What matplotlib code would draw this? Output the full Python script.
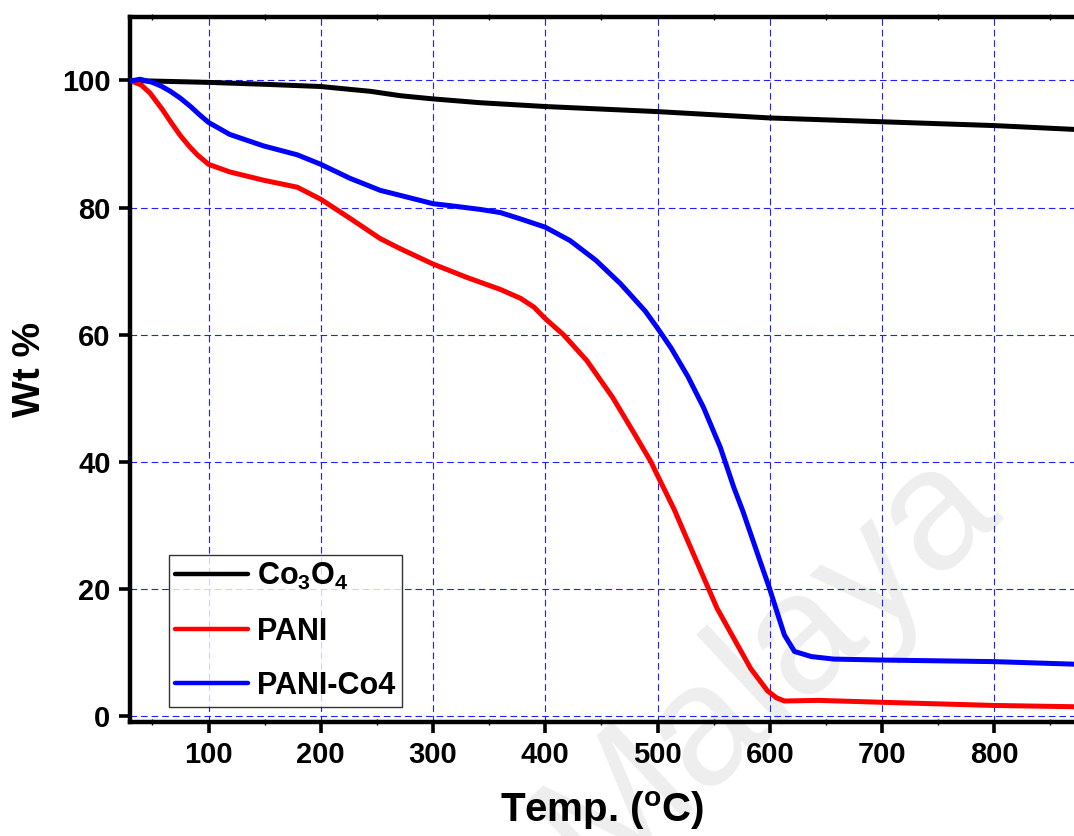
import numpy as np
import matplotlib
matplotlib.use("Agg")
import matplotlib.pyplot as plt
from matplotlib.ticker import MultipleLocator

# ==========================================
# DATA
# ==========================================
co3o4_t = [30, 100, 150, 200, 226, 244, 271, 300, 342, 400, 500, 600, 700, 800, 871]
co3o4_w = [100, 99.7, 99.4, 99.05, 98.6, 98.3, 97.6, 97.1, 96.5, 95.9, 95.1, 94.1, 93.5, 92.9, 92.3]

pani_t = [30, 40, 48, 59, 67, 75, 83, 90, 100, 119, 149, 179, 200, 226, 253, 271, 300, 330, 360,
          378, 390, 400, 416, 437, 460, 479, 494, 500, 515, 524, 553, 583, 598, 606, 613, 643,
          700, 800, 871]
pani_w = [100, 99.3, 98.0, 95.4, 93.3, 91.3, 89.6, 88.3, 86.8, 85.6, 84.3, 83.2, 81.3, 78.3, 75.1,
          73.5, 71.1, 69.0, 67.1, 65.7, 64.3, 62.5, 60.0, 55.9, 50.1, 44.5, 40.0, 37.8, 32.4, 28.7,
          16.9, 7.4, 3.9, 2.8, 2.3, 2.4, 2.1, 1.6, 1.4]

co4_t = [30, 39, 50, 58, 66, 75, 84, 92, 100, 119, 149, 179, 200, 226, 253, 271, 300, 315, 342,
         360, 378, 400, 422, 445, 467, 489, 500, 512, 527, 541, 556, 568, 576, 590, 600, 607, 613,
         622, 637, 657, 700, 800, 871]
co4_w = [99.9, 100.2, 99.7, 99.1, 98.3, 97.2, 95.9, 94.6, 93.4, 91.5, 89.7, 88.3, 86.8, 84.6, 82.7,
         81.9, 80.6, 80.3, 79.7, 79.2, 78.2, 76.9, 74.8, 71.7, 68.0, 63.7, 61.0, 57.9, 53.4, 48.5,
         42.2, 35.9, 32.2, 25.0, 19.9, 16.0, 12.7, 10.1, 9.3, 8.9, 8.75, 8.5, 8.1]

labels = [r"Co$_3$O$_4$", "PANI", "PANI-Co4"]
colors = ["black", "#ff0000", "#0000ff"]

# ==========================================
# STYLE
# ==========================================
plt.rcParams["font.family"] = ["Liberation Sans", "DejaVu Sans"]
plt.rcParams["font.weight"] = "bold"
plt.rcParams["mathtext.fontset"] = "custom"
plt.rcParams["mathtext.rm"] = "Liberation Sans:bold"
plt.rcParams["mathtext.it"] = "Liberation Sans:bold"
plt.rcParams["mathtext.bf"] = "Liberation Sans:bold"
plt.rcParams["mathtext.sf"] = "Liberation Sans:bold"

fig = plt.figure(figsize=(10.74, 8.36), dpi=100)
ax = fig.add_axes([0.121, 0.1364, 0.879, 0.8433])
ax.set_facecolor("none")

# faint watermark behind the plot (cut by the figure edge, as in the source)
fig.text(0.715, 0.205, "Malaya", fontsize=124, fontweight="normal", color="#eeeeee",
         rotation=43, ha="center", va="center", rotation_mode="anchor", zorder=-1)

for t, w, lab, c in zip([co3o4_t, pani_t, co4_t], [co3o4_w, pani_w, co4_w], labels, colors):
    ax.plot(t, w, color=c, lw=3.6, label=lab, solid_capstyle="round",
            solid_joinstyle="round", zorder=3)

ax.set_xlim(30, 871)
ax.set_ylim(-1, 110)
ax.xaxis.set_major_locator(MultipleLocator(100))
ax.xaxis.set_minor_locator(MultipleLocator(50))
ax.yaxis.set_major_locator(MultipleLocator(20))

ax.grid(True, which="major", color="#2020ff", lw=0.8, linestyle=(0, (6, 3.5)), zorder=1)
ax.set_axisbelow(True)

for side in ["left", "bottom", "top"]:
    ax.spines[side].set_linewidth(3.2)
ax.spines["right"].set_visible(False)

ax.tick_params(axis="both", which="major", direction="out", length=8, width=2.6,
               labelsize=21, pad=6)
ax.tick_params(axis="x", which="minor", direction="inout", length=5, width=1,
               top=True, bottom=True)
ax.tick_params(axis="y", which="minor", left=False)

ax.set_xlabel(r"Temp. ($^{o}$C)", fontsize=29, fontweight="bold", labelpad=14)
ax.set_ylabel("Wt %", fontsize=28, fontweight="bold", labelpad=10)

leg = ax.legend(loc="lower left", bbox_to_anchor=(0.041, 0.021), borderaxespad=0,
                fontsize=22, frameon=True, fancybox=False, edgecolor="black",
                handlelength=2.4, handletextpad=0.3, labelspacing=0.8, borderpad=0.2)
leg.get_frame().set_linewidth(1.0)
for line in leg.get_lines():
    line.set_linewidth(3.2)

fig.savefig("out.png", dpi=100)
